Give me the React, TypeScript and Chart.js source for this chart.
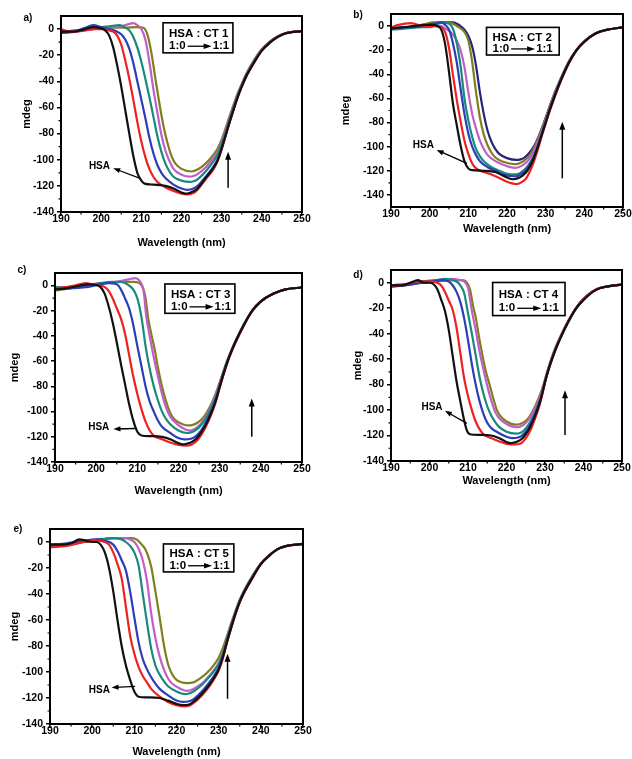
import React, { useEffect, useRef } from 'react';
import { Chart, registerables } from 'chart.js';
Chart.register(...registerables);

type P = [number, number];

const FONT = '"Liberation Sans", Arial, sans-serif';
const X_TICKS = [190, 200, 210, 220, 230, 240, 250];
const X_MINOR = [195, 205, 215, 225, 235, 245];
const Y_TICKS = [-140, -120, -100, -80, -60, -40, -20, 0];
const Y_MINOR = [-130, -110, -90, -70, -50, -30, -10];

const COLORS = {
  black: '#111111', red: '#ee2020', blue: '#2d3db5', teal: '#178a7c',
  magenta: '#c25ec8', olive: '#7f7f1e', navy: '#25237e',
};

// ---------- Panel a : HSA : CT 1 ----------
const A_BLACK: P[] = [[190,-2],[193,-2],[196,0],[198,1.5],[200,0.5],[201,-1],[202,-5],[203,-14],[204,-28],[205,-44],[206,-62],[207,-80],[208,-97],[209,-110],[210,-116],[211,-118.5],[213,-119],[216,-120],[218,-122],[220,-125],[221,-126],[222,-125.5],[224,-122],[226,-114],[228,-106],[229,-100.5],[230,-91.5],[232,-71],[234,-52],[235,-44],[236,-37],[238,-26],[240,-16.5],[242,-10.5],[244,-6],[246,-3.2],[250,-1.5]];
const A_RED: P[] = [[190,0],[192,-2],[195,-1.5],[198,0],[200,0],[202,-1],[203,-2],[204,-5],[205,-12],[206,-24],[207,-38],[208,-54],[209,-71],[210,-86],[211,-98],[212,-107],[213,-113],[214,-117],[216,-121],[218,-124],[220,-126],[221.5,-126.5],[223,-125.5],[224,-123],[226,-115],[228,-107],[229,-101],[230,-92],[232,-71],[234,-52],[235,-44],[236,-37],[238,-26],[240,-16.5],[242,-10.5],[244,-6],[246,-3.2],[250,-1.5]];
const A_BLUE: P[] = [[190,-3],[193,-2],[196,1],[198,3],[200,1.5],[202,0],[204,-2],[205,-4],[206,-8],[207,-15],[208,-26],[209,-40],[210,-54],[211,-68],[212,-83],[213,-95],[214,-104],[215,-110],[216,-114],[218,-119],[220,-122],[221.5,-123],[223,-122],[224,-120],[226,-113],[228,-105],[229,-99.5],[230,-91],[232,-70.5],[234,-51.5],[235,-43.5],[236,-36.5],[238,-25.5],[240,-16],[242,-10],[244,-5.8],[246,-3.2],[250,-1.5]];
const A_TEAL: P[] = [[190,-2],[194,-1],[198,1],[202,2],[204.5,3],[205.5,2],[207,-1],[208,-6],[209,-14],[210,-25],[211,-38],[212,-52],[213,-67],[214,-82],[215,-94],[216,-103],[217,-109],[218,-113],[220,-116],[222,-117],[223,-116.5],[224,-115],[226,-109],[228,-101],[229,-96],[230,-88],[232,-69],[234,-50.5],[235,-43],[236,-36],[238,-25],[240,-16],[242,-10],[244,-5.8],[246,-3],[250,-1.5]];
const A_MAGENTA: P[] = [[190,-3],[194,-2],[198,0],[202,1],[205,2],[207,4],[208,4.5],[209,3],[210,0],[211,-8],[212,-25],[213,-46],[214,-64],[215,-81],[216,-93],[217,-101],[218,-107],[220,-111.5],[222,-113],[223,-112.5],[224,-111],[226,-106],[228,-98.5],[229,-94],[230,-86.5],[232,-68],[234,-50],[235,-42.5],[236,-35.5],[238,-24.5],[240,-15.5],[242,-9.5],[244,-5.5],[246,-3],[250,-1.5]];
const A_OLIVE: P[] = [[190,-2],[194,-1],[198,0],[202,1],[206,1],[209,1.5],[210.5,1],[211.5,-4],[212.5,-18],[213.5,-38],[214.5,-57],[215.5,-74],[216.5,-87],[217.5,-97],[218.5,-103],[220,-107],[222.5,-109],[224,-107.5],[226,-103],[228,-96],[229,-91.5],[230,-84.5],[232,-66.5],[234,-49],[235,-42],[236,-35],[238,-24],[240,-15.5],[242,-9.5],[244,-5.5],[246,-3],[250,-1.5]];

// ---------- Panel b : HSA : CT 2 ----------
const B_BLACK: P[] = [[190,-2],[193,-1],[196,0],[199,1],[201,1],[202,0],[203,-3],[204,-15],[205,-38],[206,-64],[207,-82],[208,-99],[209,-112],[210,-118],[211,-119.5],[214,-120],[217,-121],[219,-124],[221.5,-127],[223,-126],[224,-124],[225,-121],[226,-116],[227,-109],[228,-100],[229,-90],[230,-80],[231,-70],[232,-61],[233,-52.5],[234,-44.5],[236,-30.5],[238,-20],[240,-13],[243,-6],[246,-3],[250,-1]];
const B_RED: P[] = [[190,-1],[192,1],[195,2.5],[197,1],[199,0],[201,0],[203,-1],[204,-5],[205,-18],[206,-40],[207,-61],[208,-79],[209,-95],[210,-106],[211,-114],[212,-118],[214,-121],[216,-123],[218,-126],[220,-129],[222.5,-131],[224,-129],[225,-126],[226,-120],[227,-112],[228,-102],[229,-91],[230,-81],[231,-71],[232,-62],[233,-53],[234,-45],[236,-31],[238,-20],[240,-13],[243,-6],[246,-3],[250,-1]];
const B_BLUE: P[] = [[190,-2],[194,-1],[198,0],[201,2],[203,3],[204,1],[205,-3],[206,-14],[207,-30],[208,-52],[209,-73],[210,-89],[211,-100],[212,-107],[213,-112],[215,-117],[217,-120],[219,-123],[222,-124.5],[223,-124],[224,-122],[225,-119],[226,-114.5],[227,-108],[228,-99.5],[229,-89.5],[230,-79.5],[231,-69.5],[232,-60.5],[233,-52],[234,-44],[236,-30],[238,-20],[240,-13],[243,-6],[246,-3],[250,-1]];
const B_TEAL: P[] = [[190,-3],[194,-2],[198,-1],[200,-1],[201,0],[203,3],[205,2],[206,-2],[207,-14],[208,-33],[209,-60],[210,-78],[211,-92],[212,-102],[213,-108],[214,-112],[216,-117],[218,-120],[220,-122.5],[222,-123],[223,-122.5],[224,-120.5],[225,-117.5],[226,-113],[227,-107],[228,-99],[229,-89],[230,-79],[231,-69],[232,-60],[233,-51.5],[234,-44],[236,-30],[238,-20],[240,-13],[243,-6],[246,-3],[250,-1]];
const B_MAGENTA: P[] = [[190,-2],[194,-1],[198,0],[201,1],[203,0],[204,-2],[205,-4],[206,-7],[207,-12],[208,-20],[209,-34],[210,-55],[211,-73],[212,-85],[213,-95],[214,-102],[215,-107],[217,-112],[219,-115],[222,-117.5],[223,-117],[224,-115.5],[225,-113],[226,-109],[227,-103.5],[228,-96],[229,-87],[230,-77.5],[231,-68],[232,-59],[233,-51],[234,-43.5],[236,-29.5],[238,-19.5],[240,-12.5],[243,-6],[246,-3],[250,-1]];
const B_OLIVE: P[] = [[190,-2],[194,-1],[198,1],[201,3],[203,3],[206,2],[207,0],[208,-2],[209,-5],[210,-12],[211,-30],[212,-55],[213,-76],[214,-90],[215,-99],[216,-105],[217,-109],[219,-112.5],[222,-114.5],[223,-114],[224,-112.5],[225,-110],[226,-106.5],[227,-101],[228,-94],[229,-85.5],[230,-76.5],[231,-67.5],[232,-58.5],[233,-50.5],[234,-43],[236,-29.5],[238,-19.5],[240,-12.5],[243,-6],[246,-3],[250,-1]];
const B_NAVY: P[] = [[190,-2],[194,-1],[198,1],[201,2],[203,3],[206,3],[207,2],[208,0],[209,-3],[210,-8],[211,-17],[212,-33],[213,-55],[214,-73],[215,-87],[216,-96],[217,-102],[218,-106],[220,-109.5],[222.5,-111],[223.5,-110.5],[224.5,-109],[225.5,-106],[226.5,-102],[227.5,-96.5],[228.5,-89],[229.5,-80.5],[230.5,-71.5],[231.5,-62.5],[232.5,-54],[233.5,-46.5],[235,-36],[237,-24.5],[239,-16],[241,-10],[243,-6],[246,-3],[250,-1]];

// ---------- Panel c : HSA : CT 3 ----------
const C_BLACK: P[] = [[190,-3],[193,-2],[196,0],[198,1],[200,0.5],[201,-1],[202,-6],[203,-16],[204,-29],[205,-45],[206,-62],[207,-78],[208,-94],[209,-107],[210,-116],[211,-119],[213,-119.5],[216,-120],[218,-122],[220,-125],[221,-126],[222,-125.5],[223,-124.5],[224,-122.5],[225,-119],[226,-114],[227,-108],[228,-100.5],[229,-92],[230,-80.5],[231,-69.5],[232,-59.5],[233,-51],[234,-43.5],[236,-30.5],[238,-19.5],[240,-12.5],[243,-6.5],[246,-3],[250,-1.5]];
const C_RED: P[] = [[190,-2],[193,-1],[196,1],[197.5,2],[199,1],[201,0],[202,-1],[203,-4],[204,-10],[205,-18],[206,-26],[207,-38],[208,-55],[209,-72],[210,-86],[211,-98],[212,-108],[213,-115],[214,-119],[216,-122],[218,-124.5],[220,-126.5],[222,-127],[223,-126.5],[224,-124.5],[225,-121],[226,-116],[227,-109.5],[228,-102],[229,-93],[230,-81],[231,-70],[232,-60],[233,-51.5],[234,-44],[236,-31],[238,-19.5],[240,-12.5],[243,-6.5],[246,-3],[250,-1.5]];
const C_BLUE: P[] = [[190,-3],[194,-2],[198,-1],[201,1],[203,2],[205,1],[206,-3],[207,-10],[208,-18],[209,-31],[210,-48],[211,-64],[212,-80],[213,-92],[214,-100],[215,-107],[216,-112],[218,-117],[220,-121],[221.5,-122],[223,-121.5],[224,-120],[225,-117],[226,-112.5],[227,-106.5],[228,-99.5],[229,-91],[230,-80],[231,-69],[232,-59],[233,-51],[234,-43.5],[236,-30.5],[238,-19.5],[240,-12.5],[243,-6.5],[246,-3],[250,-1.5]];
const C_TEAL: P[] = [[190,-1],[194,-2],[198,0],[201,2],[204,3],[206,3],[207,2],[208,0],[209,-3],[210,-10],[211,-25],[212,-48],[213,-66],[214,-80],[215,-91],[216,-100],[217,-106],[218,-110],[220,-115],[222,-117],[223,-116.5],[224,-115],[225,-112.5],[226,-108.5],[227,-103.5],[228,-97],[229,-89],[230,-78.5],[231,-68],[232,-58.5],[233,-50.5],[234,-43],[236,-30],[238,-19.5],[240,-12.5],[243,-6.5],[246,-3],[250,-1.5]];
const C_MAGENTA: P[] = [[190,-2],[194,-1],[198,1],[202,2],[205,3],[208,5],[209.5,6],[210.5,4],[211.5,-4],[212.2,-25],[213,-40],[214,-57],[215,-72],[216,-86],[217,-97],[218,-104],[219,-108],[221,-113],[222.5,-115],[223.5,-114.5],[224.5,-112.5],[225.5,-109.5],[226.5,-105],[227.5,-99],[228.5,-91.5],[229.5,-82.5],[230.5,-72.5],[231.5,-63],[232.5,-54.5],[233.5,-47],[235,-37],[237,-24.5],[239,-16],[241,-10],[243,-6.5],[246,-3],[250,-1.5]];
const C_OLIVE: P[] = [[190,-4],[194,-2],[198,0],[202,2],[206,3],[209,3],[210.5,2],[211.5,-3],[212,-10],[212.6,-25],[213.5,-40],[214.3,-52],[215,-65],[216,-80],[217,-92],[218,-101],[219,-106],[221,-110],[222.5,-111],[223.5,-110.5],[224.5,-109],[225.5,-106.5],[226.5,-102.5],[227.5,-97],[228.5,-90],[229.5,-81.5],[230.5,-72],[231.5,-62.5],[232.5,-54],[233.5,-46.5],[235,-36.5],[237,-24.5],[239,-16],[241,-10],[243,-6.5],[246,-3],[250,-1.5]];

// ---------- Panel d : HSA : CT 4 ----------
const D_BLACK: P[] = [[190,-2],[193,-2],[195,0],[197,2],[198.5,0],[200,0],[201,-1],[202,-5],[203,-13],[204,-22],[205,-37],[206,-57],[207,-77],[208,-93],[209,-108],[209.7,-116],[210.5,-119],[213,-119.5],[216,-120],[218,-122],[220,-125],[221,-126],[222,-125.5],[223,-124.5],[224,-122.5],[225,-119],[226,-114],[227,-107.5],[228,-100],[229,-90.5],[230,-78],[231,-67.5],[232,-58.5],[233,-50.5],[234,-43.5],[236,-31],[238,-20.5],[240,-13.5],[243,-6],[246,-3],[250,-1.5]];
const D_RED: P[] = [[190,-3],[194,-1],[197,1],[200,1],[202,0],[203,-2],[204,-7],[205,-14],[206,-21],[207,-35],[208,-55],[209,-75],[210,-89],[211,-100],[212,-109],[213,-115],[214,-119],[216,-122],[218,-124.5],[220,-126.5],[222.2,-127],[223.5,-126.5],[224.5,-124],[225.5,-120],[226.5,-114],[227.5,-106],[228.5,-97],[229.5,-85],[230.5,-72.5],[231.5,-63],[232.5,-54.5],[233.5,-47],[235,-36.5],[237,-25],[239,-16],[241,-10],[243.5,-5],[246,-3],[250,-1.5]];
const D_BLUE: P[] = [[190,-3],[194,-2],[198,0],[201,1],[203,2],[205,1],[206,-2],[207,-7],[208,-15],[209,-28],[210,-45],[211,-64],[212,-80],[213,-93],[214,-103],[215,-110],[216,-114],[218,-118],[220,-121],[221.5,-122],[223,-121.5],[224,-120],[225,-117],[226,-112.5],[227,-106.5],[228,-99],[229,-90],[230,-77.5],[231,-67],[232,-58],[233,-50],[234,-43.5],[236,-31],[238,-20.5],[240,-13.5],[243,-6],[246,-3],[250,-1.5]];
const D_TEAL: P[] = [[190,-2],[194,-1],[198,1],[202,2],[204,3],[206,2],[207,1],[208,-2],[209,-8],[210,-24],[211,-40],[212,-57],[213,-74],[214,-87],[215,-97],[216,-104],[217,-109],[218,-113],[220,-117],[222.5,-118.5],[223.5,-118],[224.5,-116],[225.5,-112.5],[226.5,-107.5],[227.5,-101],[228.5,-93.5],[229.5,-84],[230.5,-72],[231.5,-62],[232.5,-53.5],[233.5,-46.5],[235,-36.5],[237,-25],[239,-16],[241,-10],[243.5,-5],[246,-3],[250,-1.5]];
const D_MAGENTA: P[] = [[190,-2],[194,-1],[198,1],[202,2],[206,3],[208,2],[209,1],[210,-4],[211,-22],[212,-37],[213,-54],[214,-68],[215,-81],[216,-92],[217,-101],[218,-106],[220,-111],[222.5,-113.5],[223.5,-113],[224.5,-111.5],[225.5,-108.5],[226.5,-104],[227.5,-98],[228.5,-91],[229.5,-82],[230.5,-71],[231.5,-61.5],[232.5,-53],[233.5,-46],[235,-36],[237,-25],[239,-16],[241,-10],[243.5,-5],[246,-3],[250,-1.5]];
const D_OLIVE: P[] = [[190,-3],[194,-2],[198,0],[202,1],[206,2],[208.5,2],[209.5,1],[210.5,-5],[211.3,-18],[212,-27],[213,-45],[213.5,-53],[214.5,-68],[215.5,-79],[216.5,-90],[217.5,-100],[218.5,-105],[220,-109],[222.5,-111.5],[223.5,-111],[224.5,-109.5],[225.5,-107],[226.5,-102.5],[227.5,-96.5],[228.5,-89.5],[229.5,-81],[230.5,-70.5],[231.5,-61],[232.5,-52.5],[233.5,-45.5],[235,-36],[237,-25],[239,-16],[241,-10],[243.5,-5],[246,-3],[250,-1.5]];

// ---------- Panel e : HSA : CT 5 ----------
const E_BLACK: P[] = [[190,-2],[193,-2],[195,-1],[197,2],[198.5,1],[200,0],[201,0],[202,-2],[203,-8],[204,-20],[205,-38],[206,-60],[207,-80],[208,-95],[209,-106],[210,-115],[211,-119],[213,-119.5],[216,-120],[218,-122],[220,-124.5],[221.5,-125.5],[223,-125],[224,-123],[226,-117],[228,-109],[229,-104],[230,-98],[231,-88.5],[232,-76.5],[233,-65.5],[234,-55],[235,-46],[236,-39],[238,-27.5],[240,-17],[242,-10.5],[244,-5.5],[247,-2.5],[250,-1.5]];
const E_RED: P[] = [[190,-4],[194,-3],[198,0],[201,1],[203,0],[204,-2],[205,-8],[206,-17],[207,-28],[208,-50],[209,-72],[210,-86],[211,-96],[212,-103],[213,-108],[214,-113],[216,-119],[218,-123],[220,-125.5],[222,-126.5],[223,-126],[224,-124],[226,-118],[228,-110],[229,-105],[230,-99],[231,-89.5],[232,-77],[233,-66],[234,-55.5],[235,-46.5],[236,-39.5],[238,-28],[240,-17],[242,-10.5],[244,-5.5],[247,-2.5],[250,-1.5]];
const E_BLUE: P[] = [[190,-2],[194,-1],[198,1],[201,2],[203,1],[205,-2],[206,-7],[207,-14],[208,-22],[209,-38],[210,-58],[211,-77],[212,-90],[213,-98],[214,-104],[215,-109],[216,-113],[218,-118],[220,-122],[221.5,-123],[223,-122.5],[224,-121],[226,-115],[228,-107],[229,-102.5],[230,-97],[231,-88],[232,-76],[233,-65],[234,-54.5],[235,-45.5],[236,-38.5],[238,-27],[240,-17],[242,-10.5],[244,-5.5],[247,-2.5],[250,-1.5]];
const E_TEAL: P[] = [[190,-3],[194,-2],[198,0],[202,2],[205,3],[207,2],[208,0],[209,-3],[210,-8],[211,-18],[212,-40],[213,-62],[214,-82],[215,-95],[216,-102],[217,-107],[218,-111],[220,-115],[222,-117],[223,-116.5],[224,-115],[226,-110],[228,-103],[229,-99],[230,-94],[231,-86],[232,-74.5],[233,-64],[234,-54],[235,-45],[236,-38],[238,-27],[240,-17],[242,-10.5],[244,-5.5],[247,-2.5],[250,-1.5]];
const E_MAGENTA: P[] = [[190,-3],[194,-2],[198,0],[202,2],[205,3],[208,3],[209,2],[210,0],[211,-5],[212,-14],[213,-30],[214,-55],[215,-74],[216,-88],[217,-98],[218,-105],[219,-109],[221,-113],[222.5,-114.5],[224,-113],[226,-109],[228,-102],[229,-98],[230,-93],[231,-85],[232,-74],[233,-63.5],[234,-53.5],[235,-45],[236,-38],[238,-26.5],[240,-16.5],[242,-10],[244,-5.5],[247,-2.5],[250,-1.5]];
const E_OLIVE: P[] = [[190,-3],[194,-2],[198,0],[202,2],[206,3],[209,3],[210.5,2],[211.5,-1],[212.5,-5],[213.3,-11],[214,-19],[215,-38],[216,-58],[217,-79],[218,-94],[219,-102],[220,-106],[222.5,-108.5],[224,-108],[226,-104],[228,-98],[229,-94],[230,-89],[231,-81.5],[232,-72],[233,-62],[234,-53],[235,-44.5],[236,-37.5],[238,-26],[240,-16.5],[242,-10],[244,-5.5],[247,-2.5],[250,-1.5]];

type Series = { pts: P[]; color: string };
type PanelCfg = {
  tag: string; ratio: string; yMin: number;
  series: Series[];
  cx: number; cy: number; cw: number; ch: number;
  l: number; t: number; r: number; b: number;
  xTitleY: number; yTitleX: number; tagX: number; tagY: number;
  box: [number, number, number, number];
  arrow: [number, number, number];
  hsaText: [number, number];
  hsaTip: [number, number];
  hsaTail: [number, number];
};

const S = (pts: P[], color: string): Series => ({ pts, color });

const PANELS: PanelCfg[] = [
  {
    tag: 'a)', ratio: 'HSA : CT 1', yMin: -140,
    series: [S(A_BLACK, COLORS.black), S(A_RED, COLORS.red), S(A_BLUE, COLORS.blue), S(A_TEAL, COLORS.teal), S(A_MAGENTA, COLORS.magenta), S(A_OLIVE, COLORS.olive)],
    cx: 0, cy: 0, cw: 316, ch: 252, l: 61, t: 16, r: 302, b: 212,
    xTitleY: 243, yTitleX: 27, tagX: 28, tagY: 18,
    box: [215.4, 232.8, 4.8, -18.2], arrow: [231.6, -121.4, -93.8],
    hsaText: [202.2, -105.3], hsaTip: [203, -106.5], hsaTail: [209.7, -114.2],
  },
  {
    tag: 'b)', ratio: 'HSA : CT 2', yMin: -150,
    series: [S(B_BLACK, COLORS.black), S(B_RED, COLORS.red), S(B_BLUE, COLORS.blue), S(B_TEAL, COLORS.teal), S(B_MAGENTA, COLORS.magenta), S(B_OLIVE, COLORS.olive), S(B_NAVY, COLORS.navy)],
    cx: 316, cy: 0, cw: 316, ch: 252, l: 391, t: 14, r: 623, b: 207,
    xTitleY: 229, yTitleX: 346, tagX: 358, tagY: 15,
    box: [214.7, 233.5, -1.1, -24], arrow: [234.3, -126.2, -79.3],
    hsaText: [201.1, -99.2], hsaTip: [201.8, -102.7], hsaTail: [209.6, -113.8],
  },
  {
    tag: 'c)', ratio: 'HSA : CT 3', yMin: -140,
    series: [S(C_BLACK, COLORS.black), S(C_RED, COLORS.red), S(C_BLUE, COLORS.blue), S(C_TEAL, COLORS.teal), S(C_MAGENTA, COLORS.magenta), S(C_OLIVE, COLORS.olive)],
    cx: 0, cy: 250, cw: 316, ch: 252, l: 55, t: 273, r: 302, b: 462,
    xTitleY: 491, yTitleX: 15, tagX: 22, tagY: 270,
    box: [216.7, 233.7, 1.3, -22], arrow: [237.8, -120, -89.6],
    hsaText: [203.2, -112.1], hsaTip: [204.2, -113.9], hsaTail: [209.4, -113.4],
  },
  {
    tag: 'd)', ratio: 'HSA : CT 4', yMin: -140,
    series: [S(D_BLACK, COLORS.black), S(D_RED, COLORS.red), S(D_BLUE, COLORS.blue), S(D_TEAL, COLORS.teal), S(D_MAGENTA, COLORS.magenta), S(D_OLIVE, COLORS.olive)],
    cx: 316, cy: 250, cw: 316, ch: 252, l: 391, t: 270, r: 622, b: 461,
    xTitleY: 481, yTitleX: 358, tagX: 358, tagY: 275,
    box: [216.4, 235.2, 0.2, -25.8], arrow: [235.2, -119.6, -84.4],
    hsaText: [203.4, -97.5], hsaTip: [204, -100.6], hsaTail: [209.7, -110.5],
  },
  {
    tag: 'e)', ratio: 'HSA : CT 5', yMin: -140,
    series: [S(E_BLACK, COLORS.black), S(E_RED, COLORS.red), S(E_BLUE, COLORS.blue), S(E_TEAL, COLORS.teal), S(E_MAGENTA, COLORS.magenta), S(E_OLIVE, COLORS.olive)],
    cx: 0, cy: 495, cw: 316, ch: 264, l: 50, t: 529, r: 303, b: 724,
    xTitleY: 753, yTitleX: 15, tagX: 18, tagY: 529,
    box: [216.9, 233.6, -1.5, -23], arrow: [232.1, -120.6, -86],
    hsaText: [204.2, -113.7], hsaTip: [204.6, -111.9], hsaTail: [210.2, -111.1],
  },
];

function arrowHead(ctx: CanvasRenderingContext2D, x0: number, y0: number, x1: number, y1: number, len: number, half: number) {
  const a = Math.atan2(y1 - y0, x1 - x0);
  ctx.beginPath();
  ctx.moveTo(x1, y1);
  ctx.lineTo(x1 - len * Math.cos(a) + half * Math.sin(a), y1 - len * Math.sin(a) - half * Math.cos(a));
  ctx.lineTo(x1 - len * Math.cos(a) - half * Math.sin(a), y1 - len * Math.sin(a) + half * Math.cos(a));
  ctx.closePath();
  ctx.fill();
}

function makeDecor(cfg: PanelCfg) {
  return {
    id: 'decor_' + cfg.tag,
    afterDraw(chart: any) {
      const ctx: CanvasRenderingContext2D = chart.ctx;
      const { left, top, right, bottom } = chart.chartArea;
      const xs = chart.scales.x, ys = chart.scales.y;
      const X = (v: number) => xs.getPixelForValue(v);
      const Y = (v: number) => ys.getPixelForValue(v);
      ctx.save();
      ctx.strokeStyle = '#000';
      ctx.fillStyle = '#000';
      ctx.lineWidth = 2;
      ctx.strokeRect(left, top, right - left, bottom - top);
      ctx.lineWidth = 1.2;
      ctx.beginPath();
      X_MINOR.forEach((v) => { const px = X(v); ctx.moveTo(px, bottom); ctx.lineTo(px, bottom + 2.5); });
      Y_MINOR.forEach((v) => { const py = Y(v); ctx.moveTo(left, py); ctx.lineTo(left - 2.5, py); });
      ctx.stroke();
      const [bx0, bx1, by0, by1] = cfg.box;
      const L = X(bx0), R = X(bx1), T = Y(by0), B = Y(by1);
      ctx.fillStyle = '#fff';
      ctx.fillRect(L, T, R - L, B - T);
      ctx.lineWidth = 1.6;
      ctx.strokeRect(L, T, R - L, B - T);
      ctx.fillStyle = '#000';
      ctx.font = `bold 11.5px ${FONT}`;
      ctx.textAlign = 'left';
      ctx.textBaseline = 'middle';
      const h = B - T;
      ctx.fillText(cfg.ratio, L + 6, T + h * 0.36);
      const y2 = T + h * 0.78;
      ctx.fillText('1:0', L + 6, y2);
      const w0 = ctx.measureText('1:0').width;
      const ax0 = L + 6 + w0 + 2, ax1 = ax0 + 24;
      ctx.lineWidth = 1.3;
      ctx.beginPath(); ctx.moveTo(ax0, y2); ctx.lineTo(ax1 - 4, y2); ctx.stroke();
      arrowHead(ctx, ax0, y2, ax1, y2, 8, 2.8);
      ctx.fillText('1:1', ax1 + 1, y2);
      const [axv, ay0, ay1] = cfg.arrow;
      const vx = X(axv), vy0 = Y(ay0), vy1 = Y(ay1);
      ctx.lineWidth = 1.5;
      ctx.beginPath(); ctx.moveTo(vx, vy0); ctx.lineTo(vx, vy1 + 5); ctx.stroke();
      arrowHead(ctx, vx, vy0, vx, vy1, 8, 3);
      ctx.font = `bold 10px ${FONT}`;
      ctx.textAlign = 'right';
      ctx.fillText('HSA', X(cfg.hsaText[0]), Y(cfg.hsaText[1]));
      const tx = X(cfg.hsaTail[0]), ty = Y(cfg.hsaTail[1]);
      const hx = X(cfg.hsaTip[0]), hy = Y(cfg.hsaTip[1]);
      ctx.lineWidth = 1.3;
      ctx.beginPath(); ctx.moveTo(tx, ty); ctx.lineTo(hx + (tx - hx) * 0.15, hy + (ty - hy) * 0.15); ctx.stroke();
      arrowHead(ctx, tx, ty, hx, hy, 7, 2.6);
      ctx.font = `bold 10px ${FONT}`;
      ctx.textAlign = 'center';
      ctx.fillText(cfg.tag, cfg.tagX - cfg.cx, cfg.tagY - cfg.cy);
      ctx.restore();
    },
  };
}

function Panel({ cfg }: { cfg: PanelCfg }) {
  const ref = useRef<HTMLCanvasElement | null>(null);
  useEffect(() => {
    const canvas = ref.current;
    if (!canvas) return;
    const lh = 11 * 1.2;
    const tickFont = { family: FONT, size: 10.5, weight: 'bold' as const };
    const titleFont = { family: FONT, size: 11, weight: 'bold' as const };
    const chart = new Chart(canvas, {
      type: 'line',
      data: {
        datasets: cfg.series.map((s) => ({
          data: s.pts.map(([x, y]) => ({ x, y })),
          borderColor: s.color,
          borderWidth: 2.2,
          pointRadius: 0,
          cubicInterpolationMode: 'monotone' as const,
          fill: false,
        })),
      },
      options: {
        responsive: false,
        animation: false,
        events: [],
        layout: { padding: { left: 0, top: cfg.t - cfg.cy, right: cfg.cx + cfg.cw - cfg.r, bottom: 0 } },
        plugins: { legend: { display: false }, tooltip: { enabled: false }, title: { display: false } },
        scales: {
          x: {
            type: 'linear', min: 190, max: 250,
            afterBuildTicks: (s: any) => { s.ticks = X_TICKS.map((v) => ({ value: v })); },
            afterFit: (s: any) => { s.height = cfg.cy + cfg.ch - cfg.b; },
            ticks: { font: tickFont, color: '#000', padding: -3, maxRotation: 0, autoSkip: false },
            grid: { display: true, drawOnChartArea: false, drawTicks: true, tickLength: 4, color: '#000', lineWidth: 1.5 },
            border: { display: false },
            title: { display: true, text: 'Wavelength (nm)', font: titleFont, color: '#000', padding: { top: 0, bottom: Math.max(0, cfg.cy + cfg.ch - cfg.xTitleY - lh / 2) } },
          },
          y: {
            type: 'linear', min: cfg.yMin, max: 10,
            afterBuildTicks: (s: any) => { s.ticks = Y_TICKS.map((v) => ({ value: v })); },
            afterFit: (s: any) => { s.width = cfg.l - cfg.cx; },
            ticks: { font: tickFont, color: '#000', padding: 3, autoSkip: false },
            grid: { display: true, drawOnChartArea: false, drawTicks: true, tickLength: 4, color: '#000', lineWidth: 1.5 },
            border: { display: false },
            title: { display: true, text: 'mdeg', font: titleFont, color: '#000', padding: { top: Math.max(0, cfg.yTitleX - cfg.cx - lh / 2), bottom: 0 } },
          },
        },
      } as any,
      plugins: [makeDecor(cfg)],
    });
    return () => chart.destroy();
  }, [cfg]);
  return (
    <canvas
      ref={ref}
      width={cfg.cw}
      height={cfg.ch}
      style={{ position: 'absolute', left: cfg.cx, top: cfg.cy, width: cfg.cw, height: cfg.ch }}
    />
  );
}

export default function App() {
  return (
    <div style={{ position: 'absolute', left: 0, top: 0, width: 632, height: 759, background: '#fff', overflow: 'hidden' }}>
      {PANELS.map((p) => <Panel key={p.tag} cfg={p} />)}
    </div>
  );
}
